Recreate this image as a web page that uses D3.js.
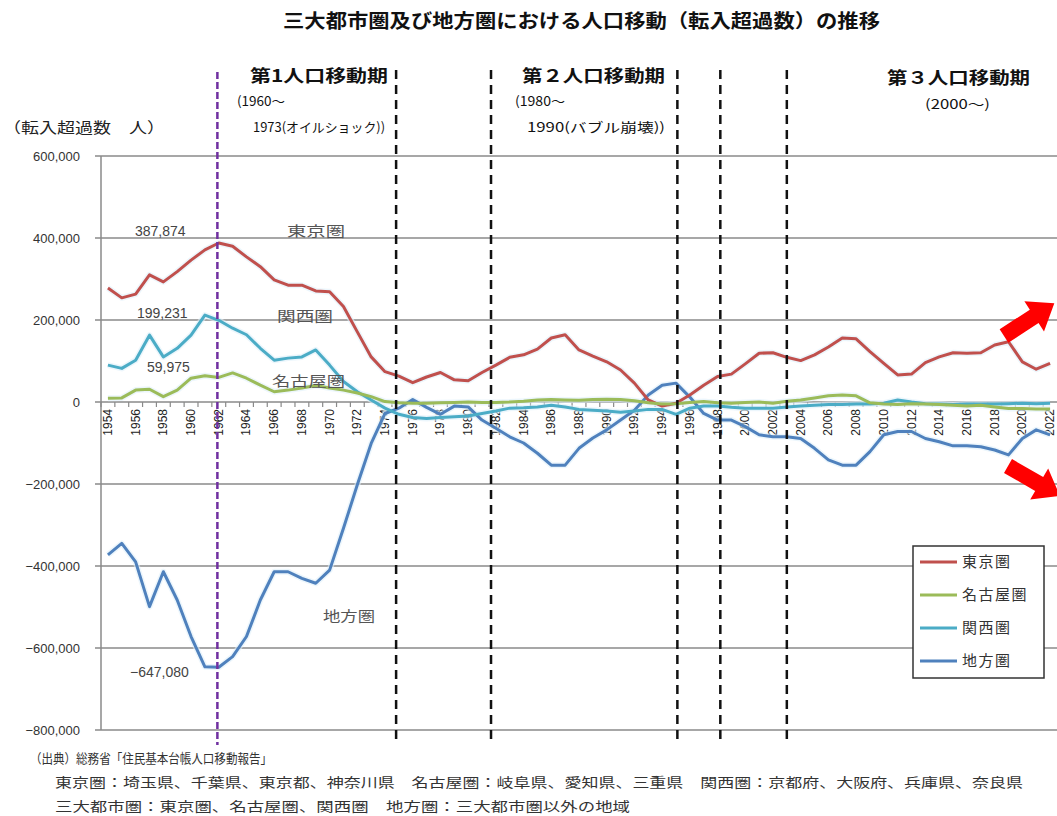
<!DOCTYPE html>
<html><head><meta charset="utf-8">
<script src="https://cdn.jsdelivr.net/npm/d3@7"></script>
<style>
body{margin:0;background:#fff;}
svg text{font-family:"Noto Sans CJK JP","Noto Sans",sans-serif;}
</style></head>
<body><svg id="c" width="1057" height="816"></svg>
<script>
const years = [1954,1955,1956,1957,1958,1959,1960,1961,1962,1963,1964,1965,1966,1967,1968,1969,1970,1971,1972,1973,1974,1975,1976,1977,1978,1979,1980,1981,1982,1983,1984,1985,1986,1987,1988,1989,1990,1991,1992,1993,1994,1995,1996,1997,1998,1999,2000,2001,2002,2003,2004,2005,2006,2007,2008,2009,2010,2011,2012,2013,2014,2015,2016,2017,2018,2019,2020,2021,2022];
const tokyo = [278000,254000,263000,310000,293000,318000,346000,371000,387874,380000,354000,330000,298000,285000,285000,271000,269000,233000,171000,110000,74000,63000,47000,61000,72000,54000,52000,72000,90000,109000,115000,129000,156000,164000,127000,112000,98000,78000,46000,5000,-10000,-3000,17000,41000,62000,68000,93000,119000,120000,109000,101000,115000,134000,156000,154000,123000,94000,66000,68000,96000,110000,120000,119000,120000,139000,147000,98000,80000,94000];
const nagoya = [9000,10000,29000,31000,13000,29000,58000,64000,59975,71000,58000,41000,25000,29000,34000,40000,34000,29000,22000,13000,1000,-2000,-3000,-3000,-2000,-1000,0,-1000,-1000,0,2000,5000,6000,5000,4000,6000,7000,6000,3000,-2000,-5000,-4000,-1000,1000,-2000,-3000,-1000,0,-3000,2000,5000,10000,15000,17000,15000,-2000,-5000,-6000,-4000,-5000,-6000,-8000,-10000,-8000,-12000,-16000,-16000,-17000,-17000];
const kansai = [90000,82000,102000,163000,110000,131000,163000,212000,199231,180000,164000,131000,102000,107000,110000,127000,90000,50000,25000,5000,-15000,-30000,-38000,-40000,-38000,-36000,-34000,-28000,-22000,-15000,-14000,-12000,-8000,-12000,-18000,-20000,-22000,-25000,-22000,-18000,-18000,-30000,-15000,-10000,-10000,-13000,-15000,-15000,-15000,-12000,-10000,-8000,-6000,-6000,-5000,-5000,-3000,5000,0,-4000,-5000,-6000,-5000,-5000,-5000,-4000,-3000,-4000,-3000];
const chiho = [-373000,-345000,-390000,-499000,-414000,-483000,-572000,-646000,-647080,-621000,-572000,-483000,-414000,-414000,-430000,-442000,-410000,-308000,-202000,-101000,-28000,-15000,6000,-13000,-30000,-10000,-12000,-44000,-64000,-85000,-100000,-125000,-154000,-154000,-113000,-88000,-68000,-44000,-20000,17000,41000,46000,12000,-28000,-44000,-44000,-60000,-80000,-85000,-85000,-89000,-113000,-141000,-154000,-154000,-121000,-80000,-72000,-72000,-89000,-97000,-107000,-107000,-109000,-117000,-129000,-89000,-68000,-80000];
const seriesNames = ["東京圏","名古屋圏","関西圏","地方圏"];
const seriesColors = ["#C0504D","#9BBB59","#4BACC6","#4F81BD"];
const yTicks = [600000,400000,200000,0,-200000,-400000,-600000,-800000];
const periodLines = [1961.9,1974.8,1981.65,1995.1,1998.2,2003.0];

const svg = d3.select("#c");
const x = d3.scaleLinear().domain([1953.5,2022.5]).range([101,1057]);
const y = d3.scaleLinear().domain([-800000,600000]).range([730,156]);

// title
svg.append("text").attr("x",283).attr("y",28).attr("font-size",19).attr("font-weight","bold")
  .attr("fill","#111").attr("textLength",597).attr("lengthAdjust","spacingAndGlyphs")
  .text("三大都市圏及び地方圏における人口移動（転入超過数）の推移");

// grid
svg.append("g").selectAll("line").data(yTicks).join("line")
  .attr("x1",101).attr("x2",1057).attr("y1",d=>y(d)).attr("y2",d=>y(d))
  .attr("stroke","#8a8a8a").attr("stroke-width",1.5);
// y axis line + ticks
svg.append("line").attr("x1",101).attr("x2",101).attr("y1",y(600000)).attr("y2",y(-800000)).attr("stroke","#8a8a8a").attr("stroke-width",1.5);
svg.append("g").selectAll("line").data(yTicks).join("line")
  .attr("x1",95).attr("x2",101).attr("y1",d=>y(d)).attr("y2",d=>y(d)).attr("stroke","#8a8a8a").attr("stroke-width",1.5);
svg.append("g").selectAll("text").data(yTicks).join("text")
  .attr("x",80).attr("y",d=>y(d)+5).attr("text-anchor","end").attr("font-size",13)
  .attr("fill","#333").style("font-family","'Liberation Sans',Arial,sans-serif")
  .text(d=>d3.format(",")(d));
// x ticks between categories
svg.append("g").selectAll("line").data(years).join("line")
  .attr("x1",d=>x(d-0.5)).attr("x2",d=>x(d-0.5)).attr("y1",y(0)).attr("y2",y(0)+5)
  .attr("stroke","#8a8a8a").attr("stroke-width",1.2);
// x labels
svg.append("g").selectAll("text").data(years.filter(d=>d%2===0)).join("text")
  .attr("transform",d=>`translate(${x(d)+4},${y(0)+7}) rotate(-90)`)
  .attr("text-anchor","end").attr("font-size",12).attr("fill","#222")
  .style("font-family","'Liberation Sans',Arial,sans-serif")
  .text(d=>d);

// lines
const all = [tokyo,nagoya,kansai,chiho];
const line = d3.line().x((d,i)=>x(years[i])).y(d=>y(d));
const order=[3,0,2,1];
const lg = svg.append("g");
order.forEach(k=>{
  lg.append("path").attr("d",line(all[k])).attr("fill","none").attr("stroke","#dff0fa")
    .attr("stroke-width",6).attr("stroke-linejoin","round").attr("opacity",0.6);
});
order.forEach(k=>{
  lg.append("path").attr("d",line(all[k])).attr("fill","none").attr("stroke",seriesColors[k])
    .attr("stroke-width",3).attr("stroke-linejoin","round");
});

// period dashed lines
svg.append("line").attr("x1",x(periodLines[0])).attr("x2",x(periodLines[0])).attr("y1",72).attr("y2",745)
  .attr("stroke","#7030A0").attr("stroke-width",2.5).attr("stroke-dasharray","7,3");
svg.append("g").selectAll("line").data(periodLines.slice(1)).join("line")
  .attr("x1",d=>x(d)).attr("x2",d=>x(d)).attr("y1",70).attr("y2",745)
  .attr("stroke","#111").attr("stroke-width",2.5).attr("stroke-dasharray","9,6");

// period labels
function t(txt,xx,yy,fs,opts={}){
  const e=svg.append("text").attr("x",xx).attr("y",yy).attr("font-size",fs).attr("fill",opts.fill||"#111").text(txt);
  if(opts.bold) e.attr("font-weight","bold");
  if(opts.w) e.attr("textLength",opts.w).attr("lengthAdjust","spacingAndGlyphs");
  if(opts.ls) e.attr("letter-spacing",opts.ls);
  if(opts.ff) e.style("font-family",opts.ff);
  return e;
}
t("第1人口移動期",250,82,17,{bold:true,w:138});
t("(1960〜",237,106,13,{w:48});
t("1973(オイルショック))",253,132,13,{w:132});
t("第２人口移動期",522,82,17,{bold:true,w:143});
t("(1980〜",515,106,13,{w:50});
t("1990(バブル崩壊))",527,132,13,{w:138});
t("第３人口移動期",887,84,17,{bold:true,w:143});
t("(2000〜)",925,109,13,{w:65});
t("（転入超過数　人）",3,133,15,{w:162,fill:"#222"});

// annotations
const nf="'Liberation Sans',Arial,sans-serif";
t(d3.format(",")(tokyo[8]),135,236,14,{fill:"#444",ff:nf});
t(d3.format(",")(kansai[8]),137,318,14,{fill:"#444",ff:nf});
t(d3.format(",")(nagoya[8]),147,372,14,{fill:"#444",ff:nf});
t(d3.format(",")(chiho[8]),130,677,14,{fill:"#444",ff:nf});
t("東京圏",287,236,14,{fill:"#555",w:58});
t("関西圏",277,321,14,{fill:"#555",w:56});
t("名古屋圏",272,386,14,{fill:"#555",w:73});
t("地方圏",323,621,14,{fill:"#555",w:52});

// arrows
const arrowPath="M0,-8L36,-8L36,-18L60,0L36,18L36,8L0,8Z";
svg.append("path").attr("d",arrowPath).attr("fill","#FF0000").attr("transform","translate(1004,336) rotate(-33)");
svg.append("path").attr("d",arrowPath).attr("fill","#FF0000").attr("transform","translate(1008,466) rotate(30)");

// legend
const leg = svg.append("g");
leg.append("rect").attr("x",913).attr("y",546).attr("width",131).attr("height",132).attr("fill","#fff").attr("stroke","#333").attr("stroke-width",1.5);
seriesNames.forEach((n,i)=>{
  const yy=562+i*33;
  leg.append("line").attr("x1",920).attr("x2",957).attr("y1",yy).attr("y2",yy).attr("stroke",seriesColors[i]).attr("stroke-width",3);
  leg.append("text").attr("x",962).attr("y",yy+5).attr("font-size",15).attr("fill","#333").attr("letter-spacing",1.5).text(n);
});

// footnotes
t("（出典）総務省「住民基本台帳人口移動報告」",30,763,13,{fill:"#333",w:242});
t("東京圏：埼玉県、千葉県、東京都、神奈川県　名古屋圏：岐阜県、愛知県、三重県　関西圏：京都府、大阪府、兵庫県、奈良県",55,787,13,{fill:"#333",w:968});
t("三大都市圏：東京圏、名古屋圏、関西圏　地方圏：三大都市圏以外の地域",55,811,13,{fill:"#333",w:575});
</script></body></html>
